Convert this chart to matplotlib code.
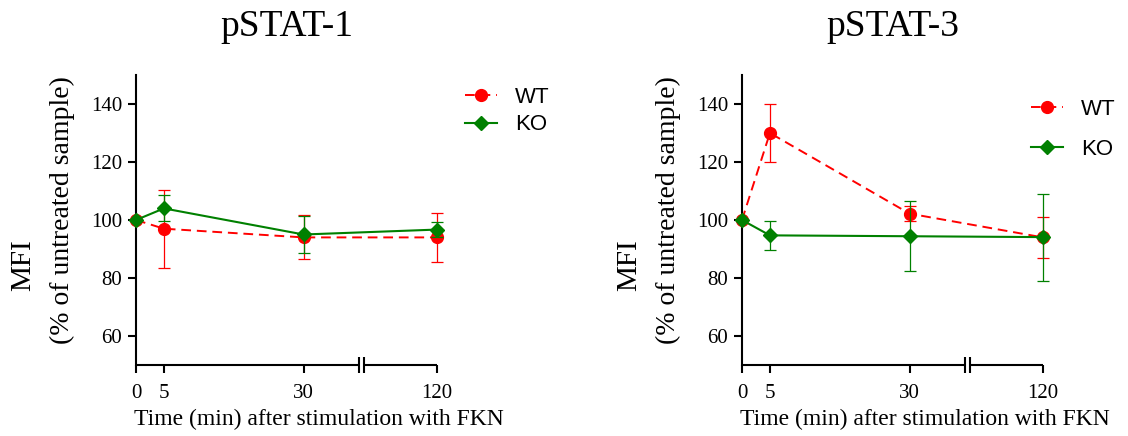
import numpy as np
import matplotlib
matplotlib.use("Agg")
import matplotlib.pyplot as plt

plt.rcParams['font.family'] = ['Liberation Serif', 'DejaVu Serif']

# time points (min) and MFI values (% of untreated sample)
times = [0, 5, 30, 120]
titles = ["pSTAT-1", "pSTAT-3"]

wt_stat1 = [100, 97, 94, 94]
wt_stat1_err = [0, 13.5, 7.6, 8.4]
ko_stat1 = [100, 104, 95, 96.7]
ko_stat1_err = [0, 4.5, 6.3, 2.5]

wt_stat3 = [100, 130, 102.2, 94]
wt_stat3_err = [0, 10, 2.5, 7]
ko_stat3 = [100, 94.7, 94.4, 94.1]
ko_stat3_err = [0, 5, 12, 15]

x_ticks = [0, 5, 30, 120]
y_ticks = [60, 80, 100, 120, 140]

RED = "#ff0000"
GREEN = "#008000"

# broken x axis: 40..107 squeezed into a small gap
brk_lo, brk_hi = 40, 107
gap = 0.9
x_in = [-100, 0, brk_lo, brk_hi, 120, 300]
x_out = [-100, 0, brk_lo, brk_lo + gap, brk_lo + gap + 13, brk_lo + gap + 193]


def forward(x):
    return np.interp(x, x_in, x_out)


def inverse(x):
    return np.interp(x, x_out, x_in)


def draw_panel(ax, title, wt, wt_err, ko, ko_err, leg_anchor, leg_spacing):
    ax.set_xscale('function', functions=(forward, inverse))
    ax.set_xlim(0, 120)
    ax.set_ylim(50, 150)

    ax.errorbar(times, wt, yerr=wt_err, fmt='none', ecolor=RED, elinewidth=0.9,
                capsize=4.5, capthick=0.9, errorevery=(1, 1), clip_on=False, zorder=2)
    ax.plot(times, wt, color=RED, linestyle=(0, (5, 3)), linewidth=1.4, marker='o',
            markersize=8.5, label="WT", clip_on=False, zorder=3)
    ax.errorbar(times, ko, yerr=ko_err, fmt='none', ecolor=GREEN, elinewidth=0.9,
                capsize=4.5, capthick=0.9, errorevery=(1, 1), clip_on=False, zorder=4)
    ax.plot(times, ko, color=GREEN, linestyle='-', linewidth=1.5, marker='D',
            markersize=7.2, label="KO", clip_on=False, zorder=5)

    # axis lines: left spine plus a bottom line broken into two pieces
    ax.spines['top'].set_visible(False)
    ax.spines['right'].set_visible(False)
    ax.spines['bottom'].set_visible(False)
    ax.spines['left'].set_linewidth(1.5)
    xax = ax.get_xaxis_transform()
    ax.plot([0, brk_lo], [0, 0], color='black', lw=1.5, transform=xax,
            clip_on=False, solid_capstyle='butt')
    ax.plot([brk_hi, 120], [0, 0], color='black', lw=1.5, transform=xax,
            clip_on=False, solid_capstyle='butt')

    ax.set_xticks(x_ticks)
    ax.set_xticklabels([str(t) for t in x_ticks])
    ax.set_xticks([brk_lo, brk_hi], labels=['', ''], minor=True)
    ax.set_yticks(y_ticks)
    ax.tick_params(axis='both', which='major', direction='out', length=6, width=1.5,
                   labelsize=15)
    ax.tick_params(axis='x', which='major', pad=8)
    ax.tick_params(axis='y', which='major', pad=4)
    ax.tick_params(axis='x', which='minor', direction='inout', length=11, width=1.5)

    ax.set_title(title, fontsize=27, pad=28)
    ax.set_xlabel("Time (min) after stimulation with FKN", fontsize=17)
    ax.xaxis.set_label_coords(0.608, -0.15)
    ax.text(-0.375, 0.345, "MFI", rotation=90, ha='center', va='center',
            fontsize=21, transform=ax.transAxes)
    ax.text(-0.245, 0.535, "(% of untreated sample)", rotation=90, ha='center',
            va='center', fontsize=20, transform=ax.transAxes)

    ax.legend(loc='upper left', bbox_to_anchor=leg_anchor, frameon=False,
              borderpad=0, borderaxespad=0, handlelength=1.45, handletextpad=0.8,
              labelspacing=leg_spacing, prop={'family': 'Liberation Sans', 'size': 16})


fig = plt.figure(figsize=(11.28, 4.36), dpi=100)
ax1 = fig.add_axes([136 / 1128, 71 / 436, 301 / 1128, 290 / 436])
ax2 = fig.add_axes([742 / 1128, 71 / 436, 301 / 1128, 290 / 436])

draw_panel(ax1, titles[0], wt_stat1, wt_stat1_err, ko_stat1, ko_stat1_err, (1.093, 0.958), 0.28)
draw_panel(ax2, titles[1], wt_stat3, wt_stat3_err, ko_stat3, ko_stat3_err, (0.960, 0.917), 0.85)

fig.savefig("out.png", dpi=100)
